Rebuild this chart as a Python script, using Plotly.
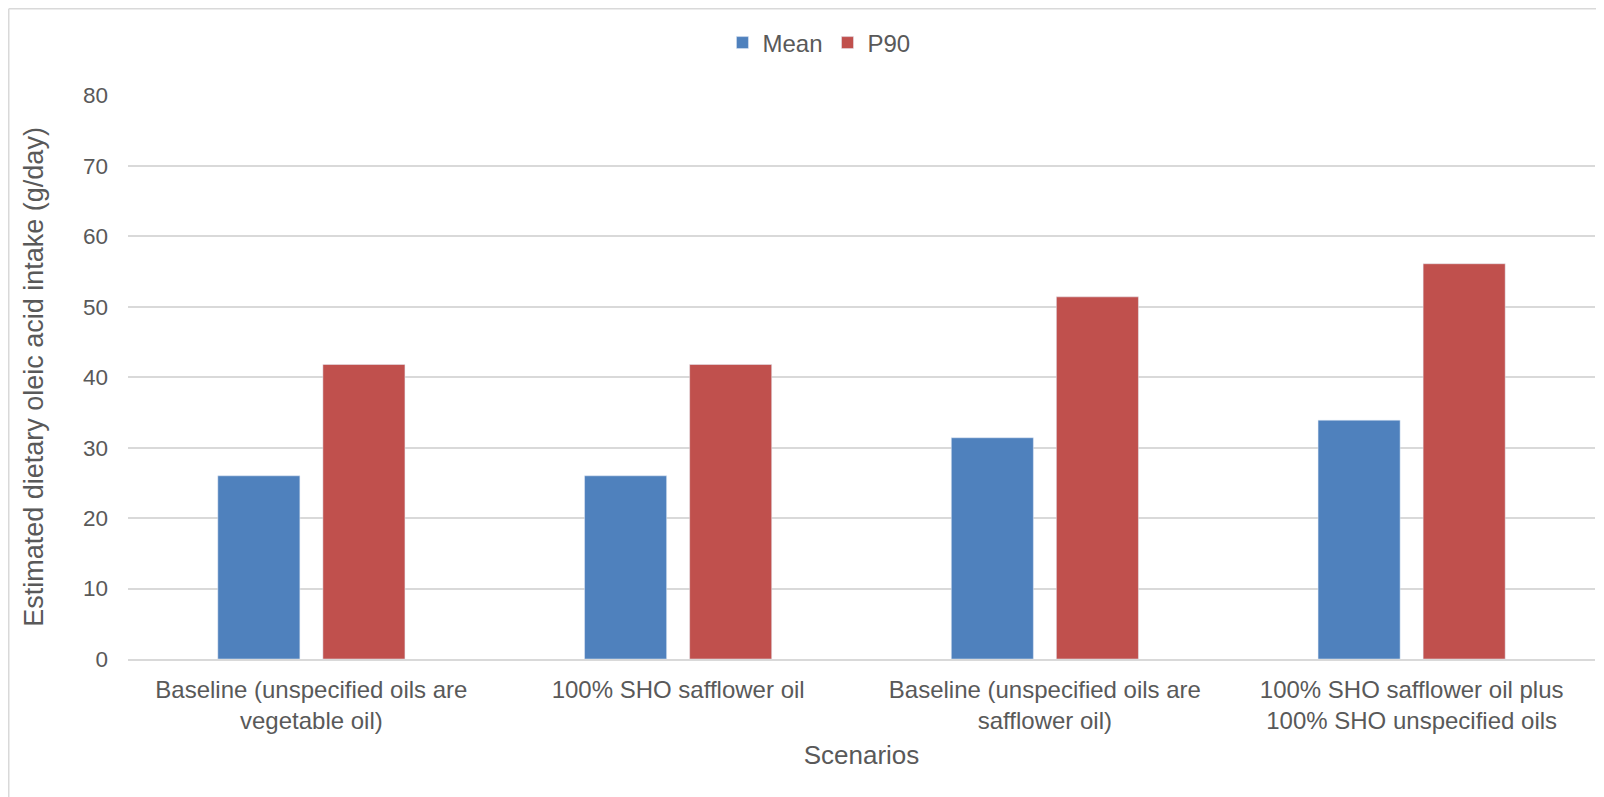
import plotly.graph_objects as go

categories = [
    "Baseline (unspecified oils are<br>vegetable oil)",
    "100% SHO safflower oil",
    "Baseline (unspecified oils are<br>safflower oil)",
    "100% SHO safflower oil plus<br>100% SHO unspecified oils",
]
mean_vals = [26.0, 26.0, 31.4, 33.9]
p90_vals = [41.8, 41.8, 51.4, 56.1]
y_ticks = [0, 10, 20, 30, 40, 50, 60, 70, 80]

FONT = "Liberation Sans, Arial, sans-serif"
TXT = "#595959"
GRID = "#d9d9d9"

W, H = 1596, 789
L, R, T, B = 120, 9, 87, 138
PW, PH = W - L - R, H - T - B

fig = go.Figure()
fig.add_trace(go.Bar(name="Mean", x=categories, y=mean_vals, marker_color="#4f81bd"))
fig.add_trace(go.Bar(name="P90", x=categories, y=p90_vals, marker_color="#c0504d"))

fig.update_layout(
    width=W, height=H,
    margin=dict(l=L, r=R, t=T, b=B, pad=0),
    paper_bgcolor="white", plot_bgcolor="white",
    barmode="group", bargap=0.427, bargroupgap=0.219,
    font=dict(family=FONT, color=TXT, size=23),
    legend=dict(orientation="h", x=0.471, xanchor="center", y=1.0 + 52 / PH, yanchor="middle",
                font=dict(size=24, color=TXT), itemwidth=30, traceorder="normal"),
    xaxis=dict(showgrid=False, ticks="", tickfont=dict(size=24, color=TXT),
               ticklabelstandoff=8,
               title=dict(text="Scenarios", font=dict(size=26, color=TXT), standoff=13),
               showline=True, linecolor=GRID, linewidth=2),
    yaxis=dict(range=[0, 80.05], tickvals=y_ticks, gridcolor=GRID, gridwidth=1.5,
               zeroline=False, ticks="", ticklabelstandoff=19,
               tickfont=dict(size=22.5, color=TXT),
               title=dict(text="Estimated dietary oleic acid intake (g/day)",
                          font=dict(size=27, color=TXT), standoff=31)),
    shapes=[
        dict(type="line", xref="paper", yref="paper",
             x0=-(L - 0.75) / PW, x1=-(L - 0.75) / PW, y0=-B / PH, y1=1 + (T - 0.75) / PH,
             line=dict(color=GRID, width=1.5)),
        dict(type="line", xref="paper", yref="paper",
             x0=-(L - 0.75) / PW, x1=1 + R / PW, y0=1 + (T - 0.75) / PH, y1=1 + (T - 0.75) / PH,
             line=dict(color=GRID, width=1.5)),
    ],
)

fig.write_html("out.html")
